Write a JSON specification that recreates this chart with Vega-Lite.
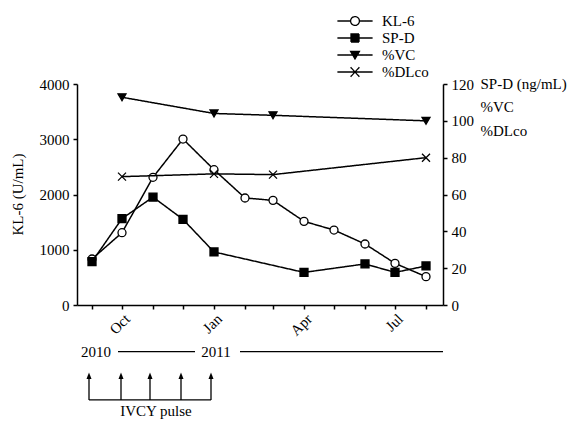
{
  "$schema": "https://vega.github.io/schema/vega-lite/v6.json",
  "width": 366,
  "height": 221,
  "autosize": {"type": "none"},
  "padding": {"left": 77, "top": 84, "right": 131, "bottom": 116},
  "background": "white",
  "config": {
    "font": "Liberation Serif",
    "view": {"stroke": null},
    "axis": {
      "labelFont": "Liberation Serif", "labelFontSize": 15, "labelColor": "#000",
      "titleFont": "Liberation Serif", "titleFontSize": 15, "titleFontWeight": "normal", "titleColor": "#000",
      "domainColor": "#000", "tickColor": "#000", "domainWidth": 1.5, "tickWidth": 1.5, "tickSize": 4, "grid": false,
      "labelOverlap": false
    }
  },
  "datasets": {
    "d": [
      {"date": "2010-09-01T00:00:00", "series": "KL-6", "value": 833},
      {"date": "2010-10-01T00:00:00", "series": "KL-6", "value": 1309},
      {"date": "2010-11-01T00:00:00", "series": "KL-6", "value": 2311},
      {"date": "2010-12-01T00:00:00", "series": "KL-6", "value": 3004},
      {"date": "2011-01-01T00:00:00", "series": "KL-6", "value": 2449},
      {"date": "2011-02-01T00:00:00", "series": "KL-6", "value": 1937},
      {"date": "2011-03-01T00:00:00", "series": "KL-6", "value": 1894},
      {"date": "2011-04-01T00:00:00", "series": "KL-6", "value": 1514},
      {"date": "2011-05-01T00:00:00", "series": "KL-6", "value": 1357},
      {"date": "2011-06-01T00:00:00", "series": "KL-6", "value": 1104},
      {"date": "2011-07-01T00:00:00", "series": "KL-6", "value": 754},
      {"date": "2011-08-01T00:00:00", "series": "KL-6", "value": 513},
      {"date": "2010-09-01T00:00:00", "series": "SP-D", "value": 23.5},
      {"date": "2010-10-01T00:00:00", "series": "SP-D", "value": 46.9},
      {"date": "2010-11-01T00:00:00", "series": "SP-D", "value": 58.6},
      {"date": "2010-12-01T00:00:00", "series": "SP-D", "value": 46.5},
      {"date": "2011-01-01T00:00:00", "series": "SP-D", "value": 28.8},
      {"date": "2011-04-01T00:00:00", "series": "SP-D", "value": 17.7},
      {"date": "2011-06-01T00:00:00", "series": "SP-D", "value": 22.3},
      {"date": "2011-07-01T00:00:00", "series": "SP-D", "value": 17.7},
      {"date": "2011-08-01T00:00:00", "series": "SP-D", "value": 21.2},
      {"date": "2010-10-01T00:00:00", "series": "%VC", "value": 112.8},
      {"date": "2011-01-01T00:00:00", "series": "%VC", "value": 104},
      {"date": "2011-03-01T00:00:00", "series": "%VC", "value": 103},
      {"date": "2011-08-01T00:00:00", "series": "%VC", "value": 100},
      {"date": "2010-10-01T00:00:00", "series": "%DLco", "value": 69.7},
      {"date": "2011-01-01T00:00:00", "series": "%DLco", "value": 71.2},
      {"date": "2011-03-01T00:00:00", "series": "%DLco", "value": 70.8},
      {"date": "2011-08-01T00:00:00", "series": "%DLco", "value": 80}
    ],
    "texts": [
      {"date": "2010-09-05T00:00:00", "value": -845, "label": "2010"},
      {"date": "2011-01-03T00:00:00", "value": -845, "label": "2011"},
      {"date": "2010-11-04T00:00:00", "value": -1920, "label": "IVCY pulse"}
    ],
    "rules": [
      {"date": "2010-09-27T00:00:00", "date2": "2010-12-13T00:00:00", "value": -845, "value2": -845},
      {"date": "2011-01-27T00:00:00", "date2": "2011-08-18T00:00:00", "value": -845, "value2": -845},
      {"date": "2010-08-29T00:00:00", "date2": "2010-12-29T00:00:00", "value": -1719, "value2": -1719},
      {"date": "2010-08-29T00:00:00", "date2": "2010-08-29T00:00:00", "value": -1719, "value2": -1280},
      {"date": "2010-09-30T00:00:00", "date2": "2010-09-30T00:00:00", "value": -1719, "value2": -1280},
      {"date": "2010-10-29T00:00:00", "date2": "2010-10-29T00:00:00", "value": -1719, "value2": -1280},
      {"date": "2010-11-29T00:00:00", "date2": "2010-11-29T00:00:00", "value": -1719, "value2": -1280},
      {"date": "2010-12-29T00:00:00", "date2": "2010-12-29T00:00:00", "value": -1719, "value2": -1280}
    ],
    "arrows": [
      {"date": "2010-08-29T00:00:00", "value": -1280},
      {"date": "2010-09-30T00:00:00", "value": -1280},
      {"date": "2010-10-29T00:00:00", "value": -1280},
      {"date": "2010-11-29T00:00:00", "value": -1280},
      {"date": "2010-12-29T00:00:00", "value": -1280}
    ]
  },
  "encoding": {
    "x": {
      "field": "date", "type": "temporal",
      "scale": {"domain": [{"year": 2010, "month": 8, "date": 17}, {"year": 2011, "month": 8, "date": 18}]},
      "axis": {
        "title": null,
        "values": [
          {"year": 2010, "month": 9, "date": 1}, {"year": 2010, "month": 10, "date": 1},
          {"year": 2010, "month": 11, "date": 1}, {"year": 2010, "month": 12, "date": 1},
          {"year": 2011, "month": 1, "date": 1}, {"year": 2011, "month": 2, "date": 1},
          {"year": 2011, "month": 3, "date": 1}, {"year": 2011, "month": 4, "date": 1},
          {"year": 2011, "month": 5, "date": 1}, {"year": 2011, "month": 6, "date": 1},
          {"year": 2011, "month": 7, "date": 1}, {"year": 2011, "month": 8, "date": 1}
        ],
        "labelExpr": "month(datum.value) == 9 ? 'Oct' : month(datum.value) == 0 ? 'Jan' : month(datum.value) == 3 ? 'Apr' : month(datum.value) == 6 ? 'Jul' : ''",
        "labelAngle": -45,
        "labelAlign": "right",
        "labelBaseline": "top",
        "labelOverlap": false,
        "labelPadding": 2
      }
    }
  },
  "layer": [
    {
      "encoding": {
        "y": {
          "field": "value", "type": "quantitative",
          "scale": {"domain": [0, 4000]},
          "axis": {
            "values": [0, 1000, 2000, 3000, 4000],
            "format": "d",
            "title": "KL-6 (U/mL)",
            "labelPadding": 4,
            "titleAngle": -90,
            "titleX": -60,
            "titleY": 110,
            "titleAlign": "center",
            "titleBaseline": "middle"
          }
        }
      },
      "layer": [
        {
          "data": {"name": "d"},
          "transform": [{"filter": "datum.series === 'KL-6'"}],
          "mark": {"type": "line", "color": "#000", "strokeWidth": 1.5},
          "encoding": {
            "strokeDash": {
              "field": "series", "type": "nominal",
              "scale": {"domain": ["KL-6", "SP-D", "%VC", "%DLco"], "range": [[1, 0], [1, 0], [1, 0], [1, 0]]},
              "legend": {
                "orient": "none", "legendX": 269, "legendY": -72, "title": null,
                "symbolSize": 256, "symbolStrokeWidth": 1.3, "symbolStrokeColor": "#000",
                "labelFont": "Liberation Serif", "labelFontSize": 15, "labelColor": "#000",
                "labelOffset": 18, "rowPadding": -0.4, "padding": 0,
                "encode": {
                  "symbols": {
                    "update": {
                      "shape": {"signal": "datum.value === 'KL-6' ? 'M-2.2,0H-0.55M0.55,0H2.2M0.55,0A0.55,0.55,0,1,1,-0.55,0A0.55,0.55,0,1,1,0.55,0' : datum.value === 'SP-D' ? 'M-2.2,0H2.2M-0.5,-0.5H0.5V0.5H-0.5Z' : datum.value === '%VC' ? 'M-2.2,0H2.2M-0.55,-0.45H0.55L0,0.5Z' : 'M-2.2,0H2.2M-0.55,-0.6L0.55,0.6M-0.55,0.6L0.55,-0.6'"},
                      "fill": {"signal": "datum.value === 'KL-6' ? 'white' : '#000'"},
                      "stroke": {"value": "#000"},
                      "strokeWidth": {"value": 1.3},
                      "opacity": {"value": 1}
                    }
                  }
                }
              }
            }
          }
        },
        {
          "data": {"name": "d"},
          "transform": [{"filter": "datum.series === 'KL-6'"}],
          "mark": {"type": "point", "filled": true, "stroke": "#000", "strokeWidth": 1.3, "opacity": 1, "size": 64},
          "encoding": {
            "shape": {
              "field": "series", "type": "nominal",
              "scale": {"domain": ["%DLco", "%VC", "SP-D", "KL-6"], "range": ["M-1,-1L1,1M-1,1L1,-1", "triangle-down", "square", "circle"]},
              "legend": null
            },
            "fill": {
              "field": "series", "type": "nominal",
              "scale": {"domain": ["SP-D", "KL-6", "%DLco", "%VC"], "range": ["#000", "white", "#000", "#000"]},
              "legend": null
            }
          }
        },
        {
          "data": {"name": "rules"},
          "mark": {"type": "rule", "color": "#000", "strokeWidth": 1.3},
          "encoding": {
            "x2": {"field": "date2"},
            "y2": {"field": "value2"}
          }
        },
        {
          "data": {"name": "arrows"},
          "mark": {"type": "point", "filled": true, "color": "#000", "opacity": 1, "size": 40, "shape": "M-0.8,1L0,-1L0.8,1Z"}
        },
        {
          "data": {"name": "texts"},
          "mark": {"type": "text", "font": "Liberation Serif", "fontSize": 15, "color": "#000", "align": "center", "baseline": "middle"},
          "encoding": {
            "text": {"field": "label"}
          }
        }
      ]
    },
    {
      "encoding": {
        "y": {
          "field": "value", "type": "quantitative",
          "scale": {"domain": [0, 120]},
          "axis": {
            "orient": "right",
            "values": [0, 20, 40, 60, 80, 100, 120],
            "labelOverlap": false,
            "labelPadding": 4,
            "title": ["SP-D (ng/mL)", "%VC", "%DLco"],
            "titleAngle": 0,
            "titleAlign": "left",
            "titleBaseline": "top",
            "titleX": 37,
            "titleY": -8,
            "titleLineHeight": 23.5
          }
        }
      },
      "layer": [
        {
          "data": {"name": "d"},
          "transform": [{"filter": "datum.series !== 'KL-6'"}],
          "mark": {"type": "line", "color": "#000", "strokeWidth": 1.5},
          "encoding": {
            "detail": {"field": "series"},
            "strokeDash": {
              "field": "series", "type": "nominal",
              "legend": {
                "orient": "none", "legendX": 269, "legendY": -72, "title": null,
                "symbolSize": 256, "symbolStrokeWidth": 1.3, "symbolStrokeColor": "#000",
                "labelFont": "Liberation Serif", "labelFontSize": 15, "labelColor": "#000",
                "labelOffset": 18, "rowPadding": -0.4, "padding": 0,
                "encode": {
                  "symbols": {
                    "update": {
                      "shape": {"signal": "datum.value === 'KL-6' ? 'M-2.2,0H-0.55M0.55,0H2.2M0.55,0A0.55,0.55,0,1,1,-0.55,0A0.55,0.55,0,1,1,0.55,0' : datum.value === 'SP-D' ? 'M-2.2,0H2.2M-0.5,-0.5H0.5V0.5H-0.5Z' : datum.value === '%VC' ? 'M-2.2,0H2.2M-0.55,-0.45H0.55L0,0.5Z' : 'M-2.2,0H2.2M-0.55,-0.6L0.55,0.6M-0.55,0.6L0.55,-0.6'"},
                      "fill": {"signal": "datum.value === 'KL-6' ? 'white' : '#000'"},
                      "stroke": {"value": "#000"},
                      "strokeWidth": {"value": 1.3},
                      "opacity": {"value": 1}
                    }
                  }
                }
              }
            }
          }
        },
        {
          "data": {"name": "d"},
          "transform": [{"filter": "datum.series !== 'KL-6'"}],
          "mark": {"type": "point", "filled": true, "stroke": "#000", "strokeWidth": 1.3, "opacity": 1, "size": 64},
          "encoding": {
            "shape": {"field": "series", "type": "nominal", "legend": null},
            "fill": {"field": "series", "type": "nominal", "legend": null}
          }
        }
      ]
    }
  ],
  "resolve": {"scale": {"y": "independent"}}
}
